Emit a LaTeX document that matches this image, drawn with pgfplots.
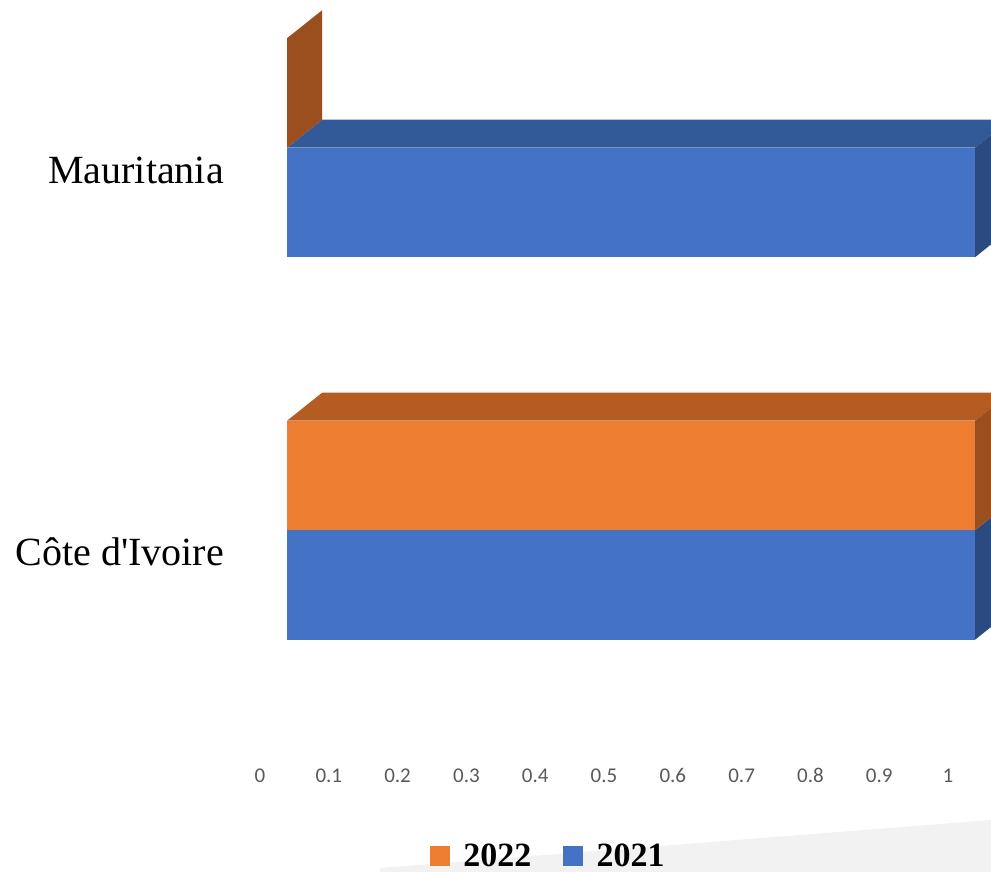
\documentclass[border=0pt]{standalone}
\usepackage{pgfplots}
\pgfplotsset{compat=1.18}
\usepackage{fontspec}
\setmainfont{Liberation Serif}
\newfontfamily\labelfont{Liberation Serif}
\newfontfamily\calib{Carlito}
\definecolor{bluefront}{HTML}{4472C4}
\definecolor{bluetop}{HTML}{335A98}
\definecolor{blueside}{HTML}{2A4A80}
\definecolor{orfront}{HTML}{ED7D31}
\definecolor{ortop}{HTML}{B45C22}
\definecolor{orside}{HTML}{9C4F1E}
\definecolor{floorgray}{HTML}{F2F2F2}
\definecolor{ticktext}{HTML}{595959}
\begin{document}
\begin{tikzpicture}
\begin{axis}[
  scale only axis,
  width=991pt, height=872pt,
  xmin=-0.41715, xmax=1.02326,
  ymin=0, ymax=872,
  axis line style={draw=none},
  major tick length=0pt,
  tick style={draw=none},
  xtick={0,0.1,0.2,0.3,0.4,0.5,0.6,0.7,0.8,0.9,1},
  xticklabels={0,0.1,0.2,0.3,0.4,0.5,0.6,0.7,0.8,0.9,1},
  xticklabel style={anchor=base, inner sep=0pt, xshift=-27pt, yshift=89pt,
    font=\calib\fontsize{21}{24}\selectfont, text=ticktext},
  ytick={320,702},
  yticklabels={C\^ote d'Ivoire, Mauritania},
  yticklabel style={anchor=east, inner sep=0pt, xshift=224pt,
    font=\labelfont\fontsize{40}{46}\selectfont, text=black},
  legend style={at={(axis cs:0.2078,16)}, anchor=west, draw=none, fill=none,
    inner sep=0pt, font=\bfseries\fontsize{34}{38}\selectfont,
    /tikz/every even column/.append style={column sep=30pt}},
  legend columns=2,
  legend image code/.code={\fill[#1, draw=none] (0pt,-10pt) rectangle (20pt,10pt);
    \path (31pt,0pt);},
]
% floor shading
\addplot[fill=floorgray, draw=none, forget plot] coordinates {(0.1352,0) (0.1352,4) (1.02326,52) (1.02326,0)} \closedcycle;

% Cote d'Ivoire 2021 (value 1)
\addplot[xbar, bar width=109.5, bar shift=0pt, fill=bluefront, draw=none, forget plot] coordinates {(1,287)};
\addplot[fill=blueside, draw=none, forget plot] coordinates {(1,232.25) (1.051,260.25) (1.051,369.75) (1,341.75)} -- cycle;
% Cote d'Ivoire 2022 (value 1)
\addplot[xbar, bar width=109.5, bar shift=0pt, fill=orfront, draw=none, forget plot] coordinates {(1,396.5)};
\addplot[fill=ortop, draw=none, forget plot] coordinates {(0,451.25) (1,451.25) (1.051,479.25) (0.051,479.25)} -- cycle;
\addplot[fill=orside, draw=none, forget plot] coordinates {(1,341.75) (1.051,369.75) (1.051,479.25) (1,451.25)} -- cycle;

% Mauritania 2021 (value 1)
\addplot[xbar, bar width=109.5, bar shift=0pt, fill=bluefront, draw=none, forget plot] coordinates {(1,669.5)};
\addplot[fill=bluetop, draw=none, forget plot] coordinates {(0,724.25) (1,724.25) (1.051,752.25) (0.051,752.25)} -- cycle;
\addplot[fill=blueside, draw=none, forget plot] coordinates {(1,614.75) (1.051,642.75) (1.051,752.25) (1,724.25)} -- cycle;
% Mauritania 2022 (value 0)
\addplot[xbar, bar width=109.5, bar shift=0pt, fill=orfront, draw=none, forget plot] coordinates {(0,779)};
\addplot[fill=orside, draw=none, forget plot] coordinates {(0,724.25) (0.051,752.25) (0.051,861.75) (0,833.75)} -- cycle;

\addlegendimage{fill=orfront}
\addlegendentry{2022}
\addlegendimage{fill=bluefront}
\addlegendentry{2021}
\end{axis}
\pgfresetboundingbox
\path (current axis.south west) rectangle (current axis.north east);
\end{tikzpicture}
\end{document}
